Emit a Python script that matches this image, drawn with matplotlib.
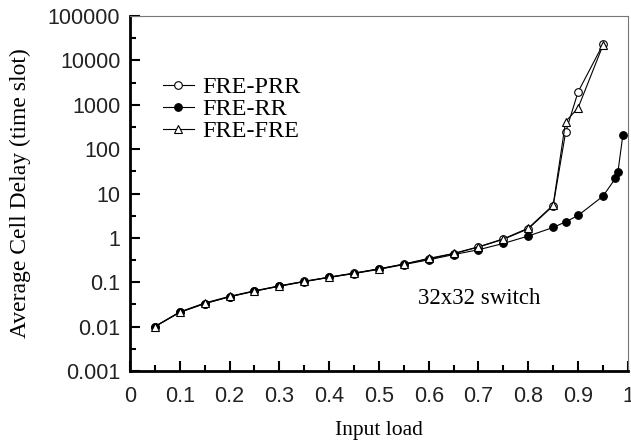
import matplotlib.pyplot as plt
from matplotlib.ticker import FixedLocator, NullFormatter

load = [0.05, 0.1, 0.15, 0.2, 0.25, 0.3, 0.35, 0.4, 0.45, 0.5, 0.55, 0.6,
        0.65, 0.7, 0.75, 0.8, 0.85, 0.875, 0.9, 0.95]
prr = [0.01, 0.021, 0.033, 0.047, 0.063, 0.082, 0.104, 0.13, 0.16, 0.2,
       0.255, 0.335, 0.44, 0.62, 0.93, 1.6, 5.3, 240, 1950, 23000]
fre = [0.01, 0.0214, 0.034, 0.048, 0.064, 0.083, 0.105, 0.13, 0.16, 0.2,
       0.257, 0.345, 0.445, 0.63, 0.95, 1.66, 5.5, 420, 850, 22000]

load_rr = [0.05, 0.1, 0.15, 0.2, 0.25, 0.3, 0.35, 0.4, 0.45, 0.5, 0.55, 0.6,
           0.65, 0.7, 0.75, 0.8, 0.85, 0.875, 0.9, 0.95, 0.975, 0.98, 0.99]
rr = [0.01, 0.021, 0.033, 0.047, 0.063, 0.081, 0.103, 0.128, 0.157, 0.195,
      0.25, 0.32, 0.42, 0.54, 0.75, 1.1, 1.72, 2.3, 3.2, 8.7, 22, 30, 210]

yticks = [0.001, 0.01, 0.1, 1, 10, 100, 1000, 10000, 100000]
ylabels = ['0.001', '0.01', '0.1', '1', '10', '100', '1000', '10000', '100000']
xticks = [0, 0.1, 0.2, 0.3, 0.4, 0.5, 0.6, 0.7, 0.8, 0.9, 1]
xlabels = ['0', '0.1', '0.2', '0.3', '0.4', '0.5', '0.6', '0.7', '0.8', '0.9', '1']

serif = 'Liberation Serif'
sans = 'Liberation Sans'

fig = plt.figure(figsize=(6.31, 4.48), dpi=100)
ax = fig.add_axes([0.206, 0.172, 0.789, 0.792])

mk = dict(color='black', lw=0.8, markersize=5.5, markeredgewidth=0.8)
ax.plot(load, prr, marker='o', markerfacecolor='white', label='FRE-PRR', **mk)
ax.plot(load_rr, rr, marker='o', markerfacecolor='black', label='FRE-RR', **mk)
ax.plot(load, fre, marker='^', markerfacecolor='white', label='FRE-FRE', **mk)

ax.set_yscale('log')
ax.set_ylim(0.001, 100000)
ax.set_xlim(0, 1)
ax.yaxis.set_major_locator(FixedLocator(yticks))
ax.set_yticklabels(ylabels)
ax.yaxis.set_minor_locator(FixedLocator([10 ** (k + 0.5) for k in range(-3, 5)]))
ax.yaxis.set_minor_formatter(NullFormatter())
ax.set_xticks(xticks)
ax.set_xticklabels(xlabels)
ax.set_xticks([0.05 + 0.1 * i for i in range(10)], minor=True)

ax.tick_params(which='both', direction='in', color='black', labelsize=15.5,
               labelcolor='#222222')
ax.tick_params(axis='y', pad=7)
ax.tick_params(axis='x', pad=11)
ax.tick_params(which='major', length=7, width=1.5)
ax.tick_params(which='minor', length=4, width=1.5)
for lab in ax.get_xticklabels() + ax.get_yticklabels():
    lab.set_family(sans)

for side in ['left', 'bottom']:
    ax.spines[side].set_linewidth(2)
    ax.spines[side].set_color('black')
for side in ['top', 'right']:
    ax.spines[side].set_linewidth(0.8)
    ax.spines[side].set_color('#777777')

ax.set_xlabel('Input load', family=serif, fontsize=15.5, labelpad=10)
ax.set_ylabel('Average Cell Delay (time slot)', family=serif, fontsize=17,
              labelpad=12)

ax.legend(loc='upper left', bbox_to_anchor=(0.046, 0.858), frameon=False,
          prop={'family': serif, 'size': 17.5}, handlelength=1.3,
          handletextpad=0.35, labelspacing=0.0, borderaxespad=0)

ax.text(0.578, 0.205, '32x32 switch', transform=ax.transAxes, family=serif,
        fontsize=16.5, va='center')

fig.savefig('out.png', dpi=100)
